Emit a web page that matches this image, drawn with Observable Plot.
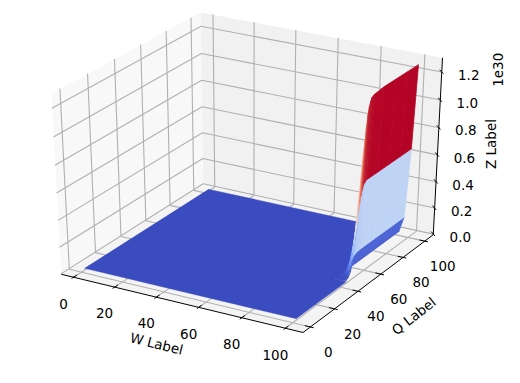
<!DOCTYPE html>
<html><head><meta charset="utf-8">
<script src="https://cdn.jsdelivr.net/npm/d3@7"></script>
<script src="https://cdn.jsdelivr.net/npm/@observablehq/plot@0.6"></script>
<style>html,body{margin:0;padding:0;background:#fff}svg{display:block}</style>
</head><body><div id="chart"></div>
<script>
// axis limits and ticks
const wLim = [-6, 108], qLim = [-6, 108], zLim = [-0.005, 1.30];
const wTicks = [0, 20, 40, 60, 80, 100];
const qTicks = [0, 20, 40, 60, 80, 100];
const zTicks = [0, 0.2, 0.4, 0.6, 0.8, 1.0, 1.2];
const zTickLabels = ["0.0","0.2","0.4","0.6","0.8","1.0","1.2"];
// surface: Z (×1e30) read along Q for each W column
const qGrid = [0, 30, 42, 44, 46, 47, 48, 49, 50, 51, 52, 53, 54, 55, 56, 57, 58, 59, 60, 62, 70, 80, 90, 100];
const wGrid = [1.5, 96, 98, 100, 101.5];
const zW0   = [.03,.03,.03,.03,.03,.03,.03,.03,.03,.03,.03,.03,.03,.03,.03,.03,.03,.03,.03,.03,.03,.03,.03,.03];
const zW96  = [.03,.03,.03,.03,.03,.03,.03,.03,.03,.03,.03,.03,.03,.03,.03,.03,.03,.03,.03,.03,.03,.03,.03,.03];
const zW975 = [.03,.03,.03,.03,.031,.033,.038,.045,.055,.07,.085,.10,.115,.125,.13,.135,.138,.14,.14,.14,.14,.14,.14,.14];
const zW99  = [.03,.03,.03,.035,.05,.07,.10,.14,.19,.25,.32,.39,.46,.52,.57,.61,.64,.65,.66,.66,.66,.66,.66,.66];
const zW100 = [.03,.03,.033,.045,.08,.13,.20,.29,.40,.52,.64,.76,.87,.97,1.07,1.15,1.2,1.23,1.25,1.26,1.27,1.27,1.27,1.27];
const zCols = [zW0, zW96, zW975, zW99, zW100];
const coolwarm = ["#3b4cc0","#5977e3","#7b9ff9","#9ebeff","#c0d4f5","#dddcdc","#f2cbb7","#f7ac8e","#ee8468","#d65244","#b40426"];

// mplot3d view: elev 30, azim -60, dist 10
const el = 30*Math.PI/180, az = -60*Math.PI/180, dist = 10;
const nv = [Math.cos(el)*Math.cos(az), Math.cos(el)*Math.sin(az), Math.sin(el)];
const un = Math.hypot(nv[0], nv[1]);
const uv = [-nv[1]/un, nv[0]/un, 0];
const vv = [nv[1]*uv[2]-nv[2]*uv[1], nv[2]*uv[0]-nv[0]*uv[2], nv[0]*uv[1]-nv[1]*uv[0]];
function view(W, Q, Z) {
  const p = [(W-wLim[0])/(wLim[1]-wLim[0])-.5, (Q-qLim[0])/(qLim[1]-qLim[0])-.5, (Z-zLim[0])/(zLim[1]-zLim[0])-.5];
  const zv = p[0]*nv[0]+p[1]*nv[1]+p[2]*nv[2]-dist;
  const xv = p[0]*uv[0]+p[1]*uv[1];
  const yv = p[0]*vv[0]+p[1]*vv[1]+p[2]*vv[2];
  return {X: xv*dist/-zv, Y: yv*dist/-zv, D: zv};
}
const pt = (W,Q,Z) => { const v = view(W,Q,Z); return {x:v.X, y:v.Y}; };

// screen fit of the box
const [w0,w1] = wLim, [q0,q1] = qLim, [z0,z1] = zLim;
const xDomain = [view(w0,q0,z1).X, view(w1,q1,z1).X];
const yDomain = [view(w1,q0,z0).Y, view(w0,q1,z1).Y];

// panes
const pane = (a,b,c,d,fill) => [a,b,c,d].map(p => ({...pt(...p), fill, id:fill}));
const panes = [
  ...pane([w0,q0,z0],[w0,q1,z0],[w0,q1,z1],[w0,q0,z1],"#f8f8f8"),
  ...pane([w0,q1,z0],[w1,q1,z0],[w1,q1,z1],[w0,q1,z1],"#f1f1f1"),
  ...pane([w0,q0,z0],[w1,q0,z0],[w1,q1,z0],[w0,q1,z0],"#f4f4f4")
];
// grid polylines
const grid = [];
wTicks.forEach(t => [[t,q0,z0],[t,q1,z0],[t,q1,z1]].forEach(p => grid.push({...pt(...p), id:"w"+t})));
qTicks.forEach(t => [[w1,t,z0],[w0,t,z0],[w0,t,z1]].forEach(p => grid.push({...pt(...p), id:"q"+t})));
zTicks.forEach(t => [[w0,q0,t],[w0,q1,t],[w1,q1,t]].forEach(p => grid.push({...pt(...p), id:"z"+t})));
// axes
const axes = [
  {a:pt(w0,q0,z0), b:pt(w1,q0,z0)},
  {a:pt(w1,q0,z0), b:pt(w1,q1,z0)},
  {a:pt(w1,q1,z0), b:pt(w1,q1,z1)}
];
const ticks = [
  ...wTicks.map(t => ({a:pt(t,q0-1.5,z0), b:pt(t,q0+2.5,z0)})),
  ...qTicks.map(t => ({a:pt(w1+1.5,t,z0), b:pt(w1-2.5,t,z0)})),
  ...zTicks.map(t => ({a:pt(w1-2,q1+2,t), b:pt(w1+1.5,q1-1.5,t)}))
];
const wLabels = wTicks.map(t => ({...pt(t,q0,z0), s:String(t)}));
const qLabels = qTicks.map(t => ({...pt(w1,t,z0), s:String(t)}));
const zLabels = zTicks.map((t,i) => ({...pt(w1,q1,t), s:zTickLabels[i]}));

// surface facets: the flat floor is one polygon, the risen part is faceted
const iFlat = 2; // qGrid index up to which the surface stays flat
const facets = [];
for (let i = 1; i < wGrid.length-1; i++) for (let j = iFlat; j < qGrid.length-1; j++) {
  const W0 = wGrid[i], W1 = wGrid[i+1], Q0 = qGrid[j], Q1 = qGrid[j+1];
  const a = zCols[i][j], b = zCols[i][j+1], c = zCols[i+1][j], d = zCols[i+1][j+1];
  const v = (a+b+c+d)/4;
  const D = (view(W0,Q0,a).D+view(W0,Q1,b).D+view(W1,Q0,c).D+view(W1,Q1,d).D)/4;
  facets.push({v, D, id:i+"-"+j, rows:[
    {A:pt(W0,Q0,a), B:pt(W1,Q0,c)},
    {A:pt(W0,Q1,b), B:pt(W1,Q1,d)}]});
}
facets.sort((p,q) => p.D-q.D);
const vMin = zW0[0], vMax = d3.max(facets, f => f.v);
const rows = facets.flatMap(f => f.rows.map(r => ({...r, v:f.v, id:f.id})));
const colorDomain = coolwarm.map((_,i) => vMin+(vMax-vMin)*i/(coolwarm.length-1));
const wEnd = wGrid[wGrid.length-1], qEnd = qGrid[qGrid.length-1], qFlat = qGrid[iFlat];
const floor = [[wGrid[0],qGrid[0]],[wEnd,qGrid[0]],[wEnd,qFlat],[wGrid[1],qFlat],[wGrid[1],qEnd],[wGrid[0],qEnd]]
  .map(([W,Q]) => ({...pt(W,Q,vMin)}));

const font = "DejaVu Sans";
const fs = 13.5;
const plot = Plot.plot({
  width:520, height:383, margin:0,
  x:{domain:xDomain, range:[51,442], axis:null},
  y:{domain:yDomain, range:[332,12], axis:null},
  color:{type:"linear", domain:colorDomain, range:coolwarm},
  style:{background:"#fff", fontFamily:font},
  marks:[
    Plot.line(panes, {x:"x", y:"y", z:"id", fill:d=>d.fill, stroke:null}),
    Plot.line(grid, {x:"x", y:"y", z:"id", stroke:"#b0b0b0", strokeWidth:1.1}),
    Plot.line(floor, {x:"x", y:"y", fill:"#3b4cc0", stroke:"#3b4cc0", strokeWidth:.3}),
    Plot.area(rows, {x1:d=>d.A.x, y1:d=>d.A.y, x2:d=>d.B.x, y2:d=>d.B.y, z:"id", fill:"v", stroke:"v", strokeWidth:.8}),
    Plot.link(axes, {x1:d=>d.a.x, y1:d=>d.a.y, x2:d=>d.b.x, y2:d=>d.b.y, stroke:"#000", strokeWidth:1}),
    Plot.link(ticks, {x1:d=>d.a.x, y1:d=>d.a.y, x2:d=>d.b.x, y2:d=>d.b.y, stroke:"#000", strokeWidth:1}),
    Plot.text(wLabels, {x:"x", y:"y", text:"s", dx:-10, dy:27, fontSize:fs, fill:"#000"}),
    Plot.text(qLabels, {x:"x", y:"y", text:"s", dx:18, dy:25.5, fontSize:fs, fill:"#000"}),
    Plot.text(zLabels, {x:"x", y:"y", text:"s", dx:27, dy:3.5, fontSize:fs, fill:"#000"}),
    Plot.text([{...pt(50,q0,z0), s:"W Label"}], {x:"x", y:"y", text:"s", dx:-21, dy:42, rotate:14, fontSize:fs, fill:"#000"}),
    Plot.text([{...pt(w1,62,z0), s:"Q Label"}], {x:"x", y:"y", text:"s", dx:31, dy:44, rotate:-38, fontSize:fs, fill:"#000"}),
    Plot.text([{...pt(w1,q1,0.68), s:"Z Label"}], {x:"x", y:"y", text:"s", dx:54, dy:0, rotate:-90, fontSize:fs, fill:"#000"}),
    Plot.text([{...pt(w1,q1,z1), s:"1e30"}], {x:"x", y:"y", text:"s", dx:56, dy:12, rotate:-90, fontSize:fs, fill:"#000"})
  ]
});
document.getElementById("chart").append(plot);
</script></body></html>
